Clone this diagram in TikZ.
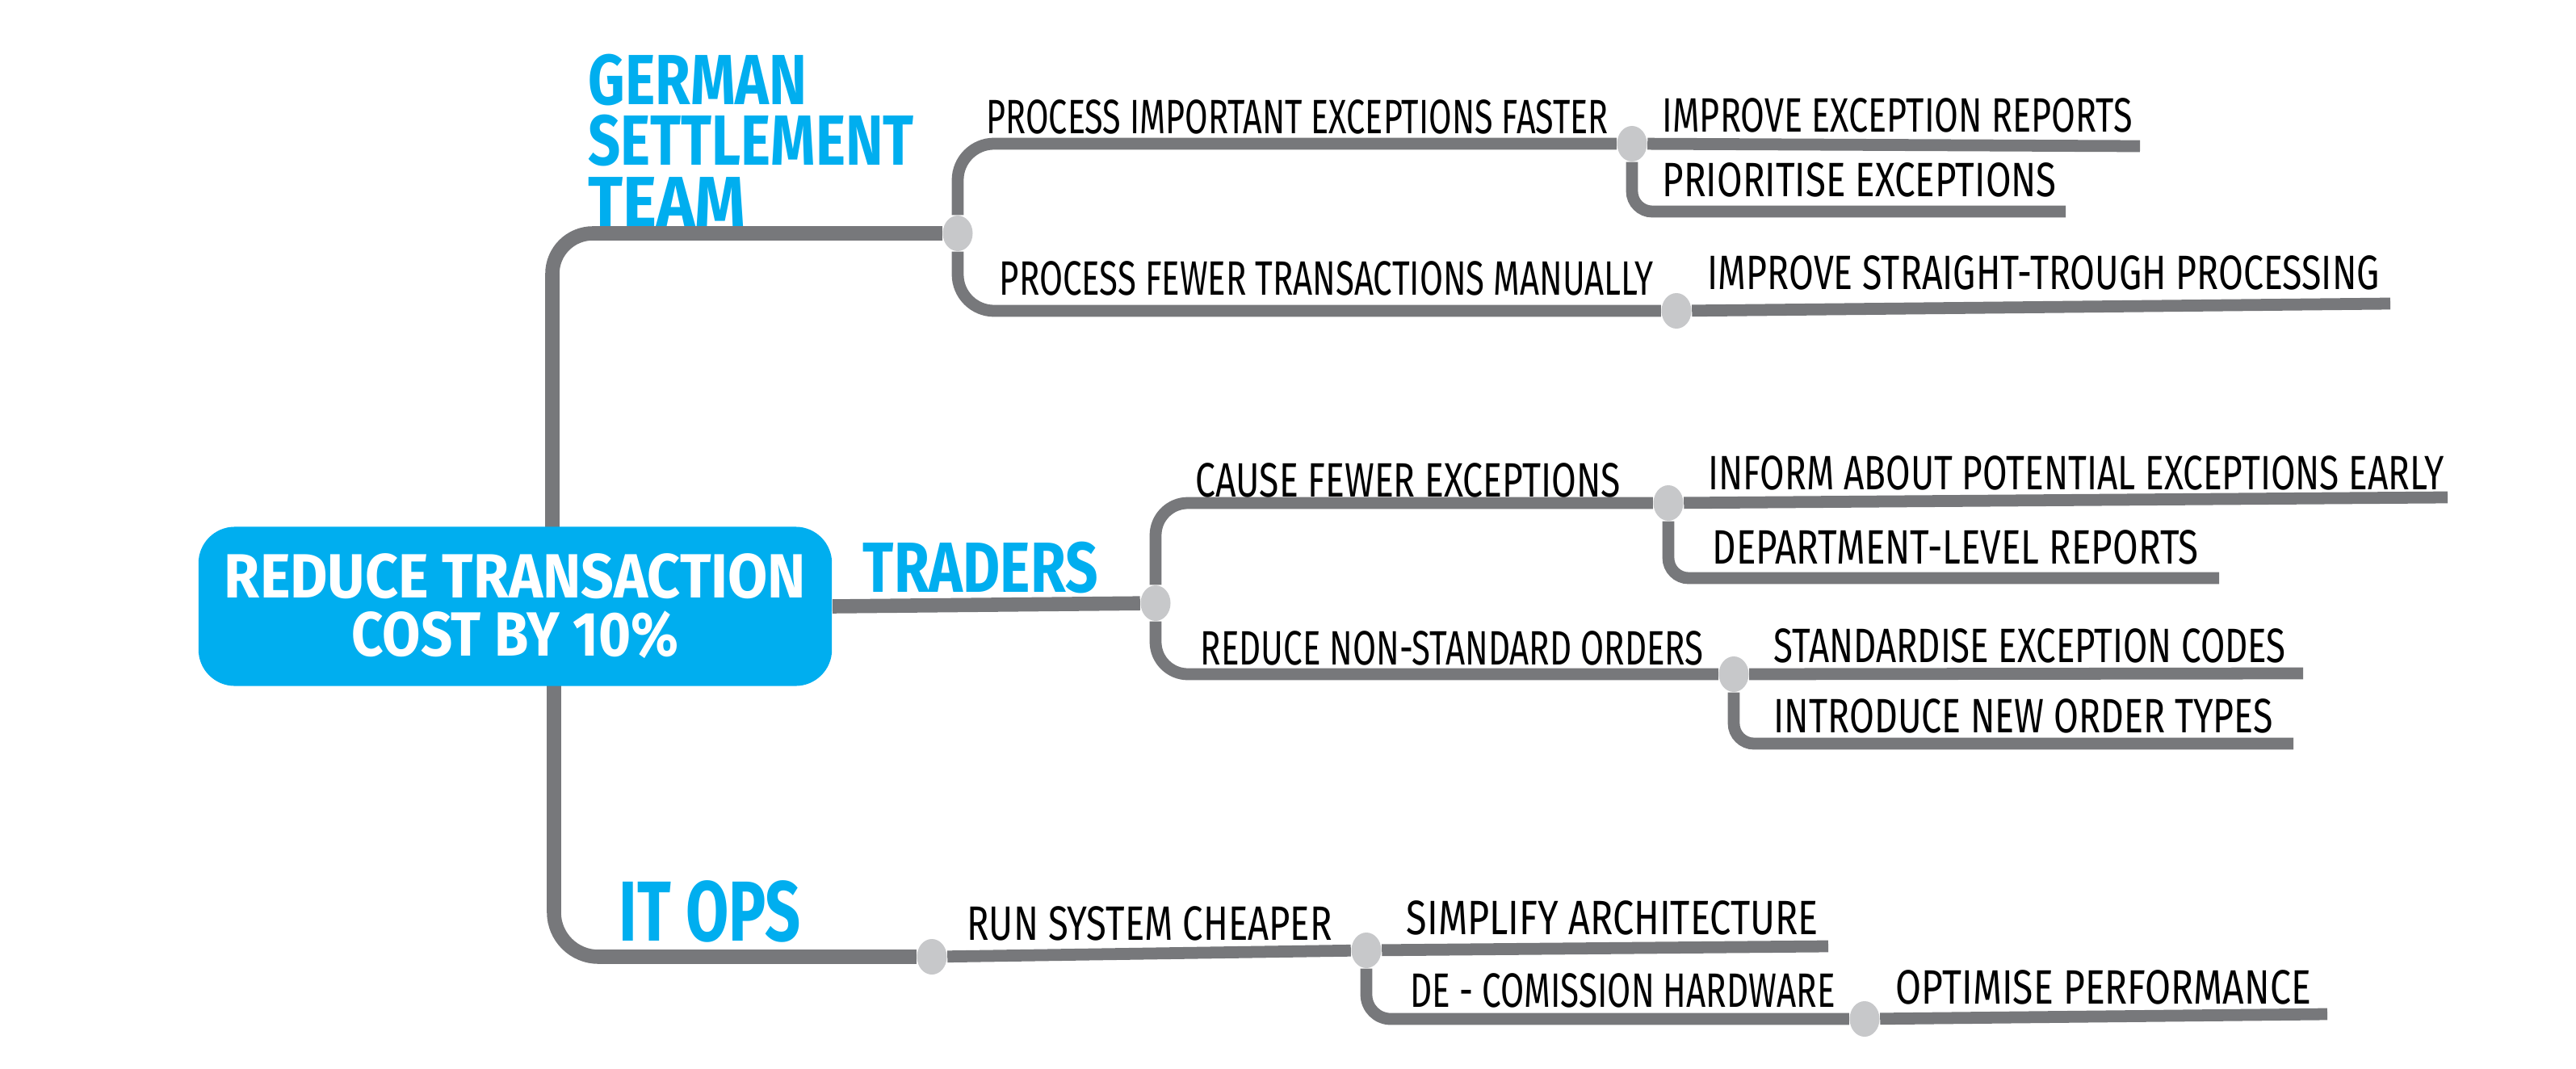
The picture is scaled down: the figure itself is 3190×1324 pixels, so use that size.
\documentclass[tikz,border=0pt]{standalone}
\usepackage{fontspec}
\usepackage{graphicx}
\usetikzlibrary{shapes.geometric}
\setmainfont{Fira Sans}
\definecolor{mmblue}{HTML}{00AEEF}
\definecolor{lineg}{HTML}{77787B}
\definecolor{dotg}{HTML}{C7C8CA}
\newlength\pxu
\setlength\pxu{0.01cm}
\newcommand\fitw[2]{\resizebox{#1\pxu}{\height}{#2}}
\pgfdeclarelayer{bg}
\pgfsetlayers{bg,main}
\begin{document}
\begin{tikzpicture}[x=0.01cm,y=-0.01cm,
  trunk/.style={draw=lineg, line width=5pt},
  twig/.style={draw=lineg, line width=4.2pt},
  dotn/.style={ellipse, fill=dotg, minimum width=3.7mm, minimum height=4.4mm, inner sep=0pt},
  leaf/.style={anchor=base west, inner sep=0pt, font=\fontsize{17}{20}\selectfont, text=black},
  grp/.style={anchor=base west, inner sep=0pt, text=mmblue, font=\fontsize{25}{21.5}\selectfont\bfseries},
  rootbox/.style={fill=mmblue, rounded corners=4.5mm, minimum width=7.84cm, minimum height=1.97cm, text=white, align=center, font=\fontsize{22}{20.5}\selectfont\bfseries, inner sep=0pt}]
\useasboundingbox (0,0) rectangle (3190,1324);

% central node
\node[rootbox] (root) at (638,751) {\fitw{720}{REDUCE TRANSACTION}\\\fitw{405}{COST BY 10\%}};

% junction dots
\node[dotn] (gst) at (1186,289) {};
\node[dotn] (trd) at (1431,747) {};
\node[dotn] (ito) at (1154,1185) {};
\node[dotn] (pief) at (2021,178) {};
\node[dotn] (pftm) at (2076,385) {};
\node[dotn] (cfe) at (2066,623) {};
\node[dotn] (rnso) at (2147,835) {};
\node[dotn] (rsc) at (1692,1177) {};
\node[dotn] (dch) at (2309,1262) {};

% free ends
\coordinate (rtop) at (684,700);
\coordinate (rbot) at (686,800);
\coordinate (eier) at (2650,181);
\coordinate (epe) at (2558,262);
\coordinate (estp) at (2960,376);
\coordinate (eiape) at (3031,616);
\coordinate (edlr) at (2748,716);
\coordinate (esec) at (2852,834);
\coordinate (eint) at (2840,921);
\coordinate (esa) at (2264,1172);
\coordinate (eop) at (2882,1256);

\begin{pgfonlayer}{bg}
\draw[trunk, rounded corners=5mm] (rtop) |- (gst);
\draw[trunk, rounded corners=5.5mm] (rbot) |- (ito);
\draw[trunk] (root.east) -- (trd);
\draw[twig, rounded corners=4.5mm] (gst) |- (pief);
\draw[twig, rounded corners=4.5mm] (gst) |- (pftm);
\draw[twig] (pief) -- (eier);
\draw[twig, rounded corners=2.5mm] (pief) |- (epe);
\draw[twig] (pftm) -- (estp);
\draw[twig, rounded corners=4mm] (trd) |- (cfe);
\draw[twig, rounded corners=4mm] (trd) |- (rnso);
\draw[twig] (cfe) -- (eiape);
\draw[twig, rounded corners=2.5mm] (cfe) |- (edlr);
\draw[twig] (rnso) -- (esec);
\draw[twig, rounded corners=2.5mm] (rnso) |- (eint);
\draw[twig] (ito) -- (rsc);
\draw[twig] (rsc) -- (esa);
\draw[twig, rounded corners=3mm] (rsc) |- (dch);
\draw[twig] (dch) -- (eop);
\end{pgfonlayer}

% group labels
\node[grp, anchor=north west, align=left] (gstl) at (728,66) {\fitw{271}{GERMAN}\\\fitw{403}{SETTLEMENT}\\\fitw{195}{TEAM}};
\node[grp] (trdl) at (1068,733) {\fitw{291}{TRADERS}};
\node[grp, font=\fontsize{30}{30}\selectfont\bfseries] (itl) at (766,1165) {\fitw{225}{IT OPS}};

% leaf labels
\node[leaf] (l1) at (1221,165) {\fitw{770}{PROCESS IMPORTANT EXCEPTIONS FASTER}};
\node[leaf] (l2) at (1237,365) {\fitw{810}{PROCESS FEWER TRANSACTIONS MANUALLY}};
\node[leaf] (l3) at (2058,163) {\fitw{582}{IMPROVE EXCEPTION REPORTS}};
\node[leaf] (l4) at (2058,243) {\fitw{488}{PRIORITISE EXCEPTIONS}};
\node[leaf] (l5) at (2114,358) {\fitw{832}{IMPROVE STRAIGHT-TROUGH PROCESSING}};
\node[leaf] (l6) at (1480,615) {\fitw{526}{CAUSE FEWER EXCEPTIONS}};
\node[leaf] (l7) at (2115,606) {\fitw{911}{INFORM ABOUT POTENTIAL EXCEPTIONS EARLY}};
\node[leaf] (l8) at (2120,698) {\fitw{602}{DEPARTMENT-LEVEL REPORTS}};
\node[leaf] (l9) at (1486,823) {\fitw{623}{REDUCE NON-STANDARD ORDERS}};
\node[leaf] (l10) at (2196,820) {\fitw{634}{STANDARDISE EXCEPTION CODES}};
\node[leaf] (l11) at (2196,907) {\fitw{618}{INTRODUCE NEW ORDER TYPES}};
\node[leaf] (l12) at (1197,1164) {\fitw{452}{RUN SYSTEM CHEAPER}};
\node[leaf] (l13) at (1741,1157) {\fitw{510}{SIMPLIFY ARCHITECTURE}};
\node[leaf] (l14) at (1746,1247) {\fitw{526}{DE - COMISSION HARDWARE}};
\node[leaf] (l15) at (2347,1243) {\fitw{514}{OPTIMISE PERFORMANCE}};
\end{tikzpicture}
\end{document}
